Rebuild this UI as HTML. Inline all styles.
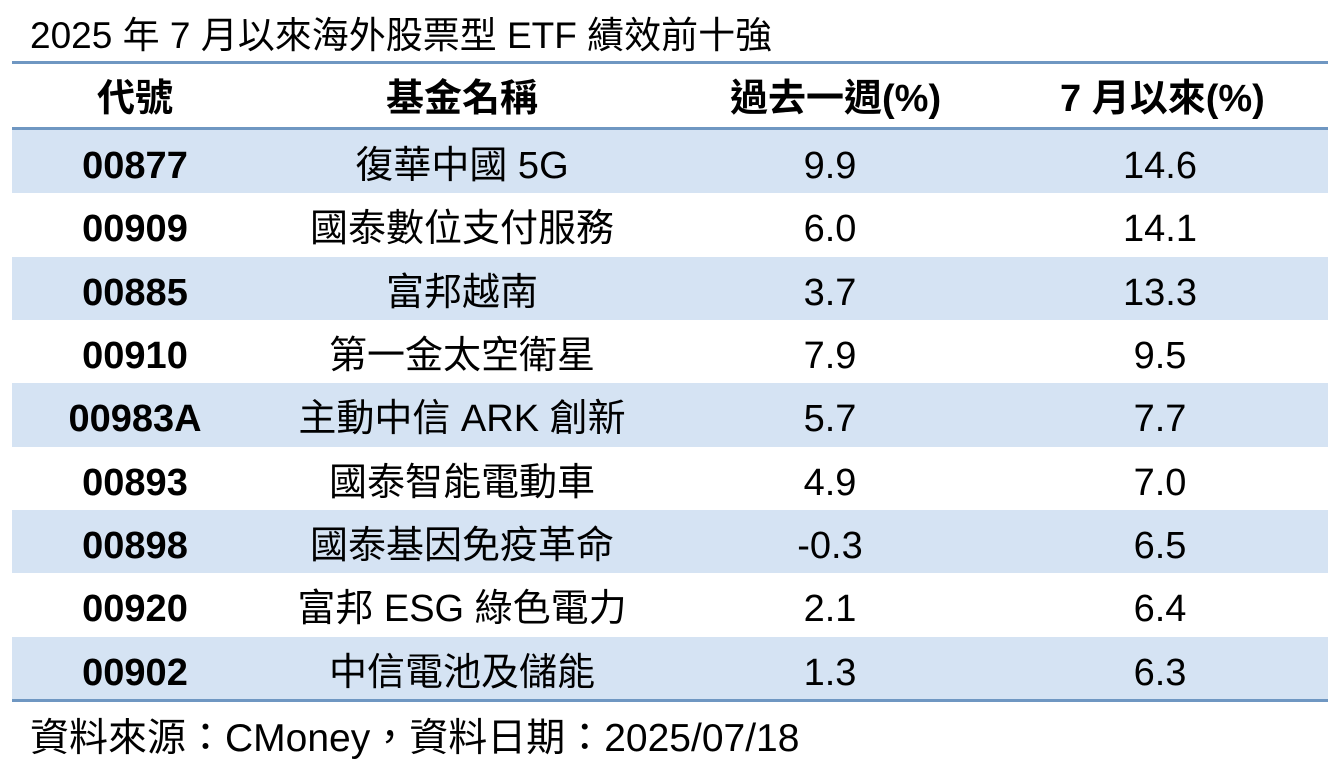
<!DOCTYPE html>
<html><head><meta charset="utf-8"><style>
body{margin:0;width:1340px;height:777px;background:#fff;font-family:"Liberation Sans","Noto Sans CJK TC",sans-serif;color:#000;position:relative;overflow:hidden}
.t{position:absolute;left:30px;top:14px;font-size:37px;line-height:44px;white-space:nowrap}
.f{position:absolute;left:30px;top:714px;font-size:39px;line-height:50px;white-space:nowrap}
.ln{position:absolute;left:12px;width:1316px;height:3px;background:#6f97c2}
.row{position:absolute;left:12px;width:1316px;height:63.33px;font-size:38px}
.row.b{background:#d5e3f3}
.row div{position:absolute;top:5px;height:63.33px;line-height:63.33px;text-align:center;white-space:nowrap}
.c1{left:23px;width:200px;font-weight:bold}
.c2{left:250px;width:400px}
.c3{left:718px;width:200px}
.c4{left:1048px;width:200px}
.h{font-weight:bold}
</style></head><body>
<div class="t">2025 年 7 月以來海外股票型 ETF 績效前十強</div>
<div class="ln" style="top:61px"></div>
<div class="row h" style="top:63px"><div class="c1">代號</div><div class="c2" style="font-weight:bold">基金名稱</div><div class="c3" style="font-weight:bold">過去一週(%)</div><div class="c4" style="font-weight:bold">7 月以來(%)</div></div>
<div class="ln" style="top:127px"></div>
<div class="row b" style="top:130px"><div class="c1">00877</div><div class="c2">復華中國 5G</div><div class="c3">9.9</div><div class="c4">14.6</div></div>
<div class="row" style="top:193.3px"><div class="c1">00909</div><div class="c2">國泰數位支付服務</div><div class="c3">6.0</div><div class="c4">14.1</div></div>
<div class="row b" style="top:256.7px"><div class="c1">00885</div><div class="c2">富邦越南</div><div class="c3">3.7</div><div class="c4">13.3</div></div>
<div class="row" style="top:320px"><div class="c1">00910</div><div class="c2">第一金太空衛星</div><div class="c3">7.9</div><div class="c4">9.5</div></div>
<div class="row b" style="top:383.3px"><div class="c1">00983A</div><div class="c2">主動中信 ARK 創新</div><div class="c3">5.7</div><div class="c4">7.7</div></div>
<div class="row" style="top:446.7px"><div class="c1">00893</div><div class="c2">國泰智能電動車</div><div class="c3">4.9</div><div class="c4">7.0</div></div>
<div class="row b" style="top:510px"><div class="c1">00898</div><div class="c2">國泰基因免疫革命</div><div class="c3">-0.3</div><div class="c4">6.5</div></div>
<div class="row" style="top:573.3px"><div class="c1">00920</div><div class="c2">富邦 ESG 綠色電力</div><div class="c3">2.1</div><div class="c4">6.4</div></div>
<div class="row b" style="top:636.7px"><div class="c1">00902</div><div class="c2">中信電池及儲能</div><div class="c3">1.3</div><div class="c4">6.3</div></div>
<div class="ln" style="top:699px"></div>
<div class="f">資料來源：CMoney，資料日期：2025/07/18</div>
</body></html>
